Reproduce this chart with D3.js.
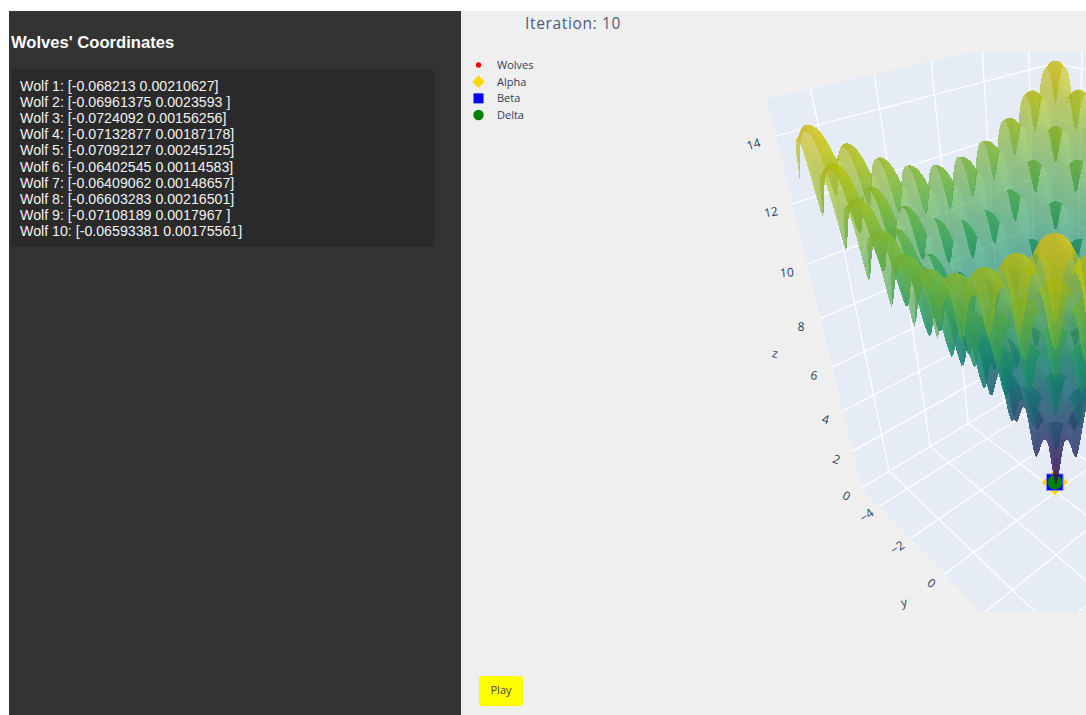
<!DOCTYPE html>
<html>
<head>
<meta charset="utf-8">
<script src="https://cdn.jsdelivr.net/npm/d3@7"></script>
<style>
  html, body { margin: 0; padding: 0; background: #fff; overflow: hidden; }
  svg { display: block; }
</style>
</head>
<body>
<div id="graphicContainer"></div>
<script>
const wolfLabels = [
  "Wolf 1: [-0.068213 0.00210627]",
  "Wolf 2: [-0.06961375 0.0023593 ]",
  "Wolf 3: [-0.0724092 0.00156256]",
  "Wolf 4: [-0.07132877 0.00187178]",
  "Wolf 5: [-0.07092127 0.00245125]",
  "Wolf 6: [-0.06402545 0.00114583]",
  "Wolf 7: [-0.06409062 0.00148657]",
  "Wolf 8: [-0.06603283 0.00216501]",
  "Wolf 9: [-0.07108189 0.0017967 ]",
  "Wolf 10: [-0.06593381 0.00175561]"
]
const wolfX = [-0.068213, -0.06961375, -0.0724092, -0.07132877, -0.07092127, -0.06402545, -0.06409062, -0.06603283, -0.07108189, -0.06593381]
const wolfY = [0.00210627, 0.0023593, 0.00156256, 0.00187178, 0.00245125, 0.00114583, 0.00148657, 0.00216501, 0.0017967, 0.00175561]
const wolfZ = 0.58

const xTicks = [-4, -2, 0, 2, 4]
const yTicks = [-4, -2, 0, 2, 4]
const zTicks = [0, 2, 4, 6, 8, 10, 12, 14]
const yTickLabels = [-4, -2, 0]

const legendNames = ["Wolves", "Alpha", "Beta", "Delta"]

// surface heights, rows y = -5..5, columns x = -5..5, half a unit apart
const zRows = [
  [12.64,13.99,11.91,13.28,11.23,12.65,10.66,12.16,10.28,11.89,10.14,11.89,10.28,12.16,10.66,12.65,11.23,13.28,11.91,13.99,12.64],
  [13.99,14.22,13.18,13.42,12.41,12.69,11.75,12.12,11.30,11.81,11.13,11.81,11.30,12.12,11.75,12.69,12.41,13.42,13.18,14.22,13.99],
  [11.91,13.18,11.01,12.29,10.14,11.45,9.37,10.79,8.84,10.41,8.64,10.41,8.84,10.79,9.37,11.45,10.14,12.29,11.01,13.18,11.91],
  [13.28,13.42,12.29,12.42,11.30,11.46,10.41,10.68,9.77,10.22,9.53,10.22,9.77,10.68,10.41,11.46,11.30,12.42,12.29,13.42,13.28],
  [11.23,12.41,10.14,11.30,9.02,10.21,7.99,9.27,7.21,8.71,6.92,8.71,7.21,9.27,7.99,10.21,9.02,11.30,10.14,12.41,11.23],
  [12.65,12.69,11.45,11.46,10.21,10.22,9.00,9.11,8.05,8.40,7.67,8.40,8.05,9.11,9.00,10.22,10.21,11.46,11.45,12.69,12.65],
  [10.66,11.75,9.37,10.41,7.99,9.00,6.59,7.67,5.42,6.78,4.93,6.78,5.42,7.67,6.59,9.00,7.99,10.41,9.37,11.75,10.66],
  [12.16,12.12,10.79,10.68,9.27,9.11,7.67,7.53,6.22,6.36,5.54,6.36,6.22,7.53,7.67,9.11,9.27,10.68,10.79,12.12,12.16],
  [10.28,11.30,8.84,9.77,7.21,8.05,5.42,6.22,3.63,4.64,2.64,4.64,3.63,6.22,5.42,8.05,7.21,9.77,8.84,11.30,10.28],
  [11.89,11.81,10.41,10.22,8.71,8.40,6.78,6.36,4.64,4.25,3.08,4.25,4.64,6.36,6.78,8.40,8.71,10.22,10.41,11.81,11.89],
  [10.14,11.13,8.64,9.53,6.92,7.67,4.93,5.54,2.64,3.08,0.45,3.08,2.64,5.54,4.93,7.67,6.92,9.53,8.64,11.13,10.14],
  [11.89,11.81,10.41,10.22,8.71,8.40,6.78,6.36,4.64,4.25,3.08,4.25,4.64,6.36,6.78,8.40,8.71,10.22,10.41,11.81,11.89],
  [10.28,11.30,8.84,9.77,7.21,8.05,5.42,6.22,3.63,4.64,2.64,4.64,3.63,6.22,5.42,8.05,7.21,9.77,8.84,11.30,10.28],
  [12.16,12.12,10.79,10.68,9.27,9.11,7.67,7.53,6.22,6.36,5.54,6.36,6.22,7.53,7.67,9.11,9.27,10.68,10.79,12.12,12.16],
  [10.66,11.75,9.37,10.41,7.99,9.00,6.59,7.67,5.42,6.78,4.93,6.78,5.42,7.67,6.59,9.00,7.99,10.41,9.37,11.75,10.66],
  [12.65,12.69,11.45,11.46,10.21,10.22,9.00,9.11,8.05,8.40,7.67,8.40,8.05,9.11,9.00,10.22,10.21,11.46,11.45,12.69,12.65],
  [11.23,12.41,10.14,11.30,9.02,10.21,7.99,9.27,7.21,8.71,6.92,8.71,7.21,9.27,7.99,10.21,9.02,11.30,10.14,12.41,11.23],
  [13.28,13.42,12.29,12.42,11.30,11.46,10.41,10.68,9.77,10.22,9.53,10.22,9.77,10.68,10.41,11.46,11.30,12.42,12.29,13.42,13.28],
  [11.91,13.18,11.01,12.29,10.14,11.45,9.37,10.79,8.84,10.41,8.64,10.41,8.84,10.79,9.37,11.45,10.14,12.29,11.01,13.18,11.91],
  [13.99,14.22,13.18,13.42,12.41,12.69,11.75,12.12,11.30,11.81,11.13,11.81,11.30,12.12,11.75,12.69,12.41,13.42,13.18,14.22,13.99],
  [12.64,13.99,11.91,13.28,11.23,12.65,10.66,12.16,10.28,11.89,10.14,11.89,10.28,12.16,10.66,12.65,11.23,13.28,11.91,13.99,12.64]
]

const axisMin = -5.25
const axisMax = 5.25
const zTop = 15
const subdiv = 8
const pitSharpness = 0.07
const surfaceOpacity = 0.64

const width = 1086
const height = 715
const font = "'Open Sans', sans-serif"
const inkColor = "#2a3f5f"

const svg = d3.select("#graphicContainer").append("svg")
  .attr("width", width)
  .attr("height", height)

svg.append("rect").attr("x", 9).attr("y", 11).attr("width", 452).attr("height", 704).attr("fill", "#333333")
svg.append("rect").attr("x", 461).attr("y", 11).attr("width", 625).attr("height", 704).attr("fill", "#efefef")

// left panel
svg.append("text")
  .attr("x", 11).attr("y", 48)
  .attr("font-family", "'Liberation Sans', Arial, sans-serif")
  .attr("font-size", 16.6).attr("font-weight", "bold").attr("fill", "#fff")
  .text("Wolves' Coordinates")

svg.append("rect")
  .attr("x", 11).attr("y", 69).attr("width", 423).attr("height", 178).attr("rx", 4)
  .attr("fill", "#2a2a2a")

svg.append("g").selectAll("text")
  .data(wolfLabels)
  .enter()
  .append("text")
  .attr("x", 20)
  .attr("y", (d, i) => 91 + i * 16.1)
  .attr("font-family", "'Liberation Sans', Arial, sans-serif")
  .attr("font-size", 14.2)
  .attr("fill", "#f2f2f2")
  .style("white-space", "pre")
  .text(d => d)

// header, legend, button
svg.append("text")
  .attr("x", 525).attr("y", 29)
  .attr("font-family", font).attr("font-size", 15.5).attr("fill", "#4a5c78")
  .style("letter-spacing", "0.65px")
  .text("Iteration: 10")

const symbolFor = {
  Wolves: d3.symbol(d3.symbolCircle, 22)(),
  Alpha: d3.symbol(d3.symbolDiamond2, 100)(),
  Beta: d3.symbol(d3.symbolSquare, 100)(),
  Delta: d3.symbol(d3.symbolCircle, 85)()
}
const colorFor = { Wolves: "#ff0000", Alpha: "#ffd700", Beta: "#0000ff", Delta: "#008000" }

const legendY = d3.scalePoint().domain(legendNames).range([65, 115])

const legend = svg.append("g").selectAll("g")
  .data(legendNames)
  .enter()
  .append("g")
  .attr("transform", d => `translate(0,${legendY(d)})`)

legend.append("path")
  .attr("transform", "translate(478.5,0)")
  .attr("d", d => symbolFor[d])
  .attr("fill", d => colorFor[d])

legend.append("text")
  .attr("x", 497).attr("y", 4)
  .attr("font-family", font).attr("font-size", 11).attr("fill", inkColor)
  .text(d => d)

svg.append("rect")
  .attr("x", 479).attr("y", 676).attr("width", 44).attr("height", 30).attr("rx", 3)
  .attr("fill", "#ffff00")

svg.append("text")
  .attr("x", 501).attr("y", 694)
  .attr("text-anchor", "middle")
  .attr("font-family", font).attr("font-size", 11).attr("fill", "#444")
  .text("Play")

const depth = (x, y, z) => 1 + 0.02057 * (x - axisMin) - 0.02444 * (y - axisMin) - 0.02168 * z

const project = (x, y, z) => {
  const X = x - axisMin
  const Y = y - axisMin
  const w = depth(x, y, z)
  return [
    (861.7 + 40.23 * X - 7.3 * Y - 22.94 * z) / w,
    (487.7 - 3.54 * X + 2.4 * Y - 28.07 * z) / w
  ]
}

const line3d = d3.line()

const defs = svg.append("defs")

defs.append("clipPath").attr("id", "sceneClip")
  .append("rect").attr("x", 461).attr("y", 51).attr("width", 625).attr("height", 561)

const soften = defs.append("filter").attr("id", "soften")
  .attr("x", 0).attr("y", 0).attr("width", 1).attr("height", 1)
soften.append("feGaussianBlur").attr("stdDeviation", 0.45)

const scene = svg.append("g").attr("clip-path", "url(#sceneClip)")

const walls = [
  [[axisMin, axisMin, 0], [axisMax, axisMin, 0], [axisMax, axisMax, 0], [axisMin, axisMax, 0]],
  [[axisMin, axisMin, 0], [axisMax, axisMin, 0], [axisMax, axisMin, zTop], [axisMin, axisMin, zTop]],
  [[axisMax, axisMin, 0], [axisMax, axisMax, 0], [axisMax, axisMax, zTop], [axisMax, axisMin, zTop]]
]

scene.append("g").selectAll("path")
  .data(walls)
  .enter()
  .append("path")
  .attr("d", d => line3d(d.map(p => project(...p))) + "Z")
  .attr("fill", "#e5ecf6")

const gridLines = []

xTicks.forEach(t => {
  gridLines.push([[t, axisMin, 0], [t, axisMax, 0]])
  gridLines.push([[t, axisMin, 0], [t, axisMin, zTop]])
})
yTicks.forEach(t => {
  gridLines.push([[axisMin, t, 0], [axisMax, t, 0]])
  gridLines.push([[axisMax, t, 0], [axisMax, t, zTop]])
})
zTicks.forEach(t => {
  gridLines.push([[axisMin, axisMin, t], [axisMax, axisMin, t]])
  gridLines.push([[axisMax, axisMin, t], [axisMax, axisMax, t]])
})

scene.append("g").selectAll("path")
  .data(gridLines)
  .enter()
  .append("path")
  .attr("d", d => line3d(d.map(p => project(...p))))
  .attr("fill", "none")
  .attr("stroke", "#fff")
  .attr("stroke-width", 1.2)

// wolves sit under the tip of the central pit
const marks = scene.append("g")

marks.selectAll("circle")
  .data(wolfX.map((x, i) => project(x, wolfY[i], wolfZ)))
  .enter()
  .append("circle")
  .attr("cx", d => d[0]).attr("cy", d => d[1]).attr("r", 2.5)
  .attr("fill", "#ff0000")

const bestPoint = project(wolfX[5], wolfY[5], wolfZ)

marks.selectAll("path")
  .data([
    { d: d3.symbol(d3.symbolDiamond2, 430)(), fill: "#ffd700", stroke: "none" },
    { d: d3.symbol(d3.symbolSquare, 270)(), fill: "#0000ff", stroke: "#8888ff" },
    { d: d3.symbol(d3.symbolCircle, 170)(), fill: "#008000", stroke: "none" }
  ])
  .enter()
  .append("path")
  .attr("transform", `translate(${bestPoint[0]},${bestPoint[1]})`)
  .attr("d", d => d.d)
  .attr("fill", d => d.fill)
  .attr("stroke", d => d.stroke)

// surface
const gridX = d3.scaleLinear().domain([0, 20]).range([-5, 5])
const gridY = d3.scaleLinear().domain([0, 20]).range([-5, 5])
const colorScale = d3.scaleSequential(d3.interpolateViridis).domain([0, 14.22])

const spline = (a, b, c, d, t) =>
  0.5 * (2 * b + (c - a) * t + (2 * a - 5 * b + 4 * c - d) * t * t + (3 * b - a - 3 * c + d) * t * t * t)

const heightAt = (u, v) => {
  const i = Math.min(Math.floor(u), 19)
  const j = Math.min(Math.floor(v), 19)
  const row = r => zRows[Math.max(0, Math.min(20, r))]
  const col = (r, c) => row(r)[Math.max(0, Math.min(20, c))]
  const across = r => spline(col(r, i - 1), col(r, i), col(r, i + 1), col(r, i + 2), u - i)
  return spline(across(j - 1), across(j), across(j + 1), across(j + 2), v - j)
}

// pits in the picture are narrower than a plain spline through the samples
const sharpen = u => u + 2 * pitSharpness * Math.sin(Math.PI * u)

const steps = d3.range(0, 20 * subdiv + 1).map(s => s / subdiv)

const vertices = steps.map(v => steps.map(u => {
  const x = gridX(u)
  const y = gridY(v)
  const z = heightAt(sharpen(u), sharpen(v))
  return { x, y, z, p: project(x, y, z) }
}))

const light = [0.7071, 0.7071, 0]

const quads = []

for (let j = 0; j < steps.length - 1; j++) {
  for (let i = 0; i < steps.length - 1; i++) {
    const a = vertices[j][i], b = vertices[j][i + 1], c = vertices[j + 1][i + 1], e = vertices[j + 1][i]
    if (Math.min(a.p[0], b.p[0], c.p[0], e.p[0]) > 1090) continue
    const gx = ((b.z - a.z) + (c.z - e.z)) / (2 * (b.x - a.x))
    const gy = ((e.z - a.z) + (c.z - b.z)) / (2 * (e.y - a.y))
    const len = Math.hypot(gx, gy, 1)
    const dot = (-gx * light[0] - gy * light[1]) / len
    const z = (a.z + b.z + c.z + e.z) / 4
    const base = d3.rgb(colorScale(z))
    const k = 0.8 + 0.08 * Math.max(0, dot)
    quads.push({
      d: line3d([a.p, b.p, c.p, e.p]) + "Z",
      far: depth((a.x + c.x) / 2, (a.y + c.y) / 2, z),
      fill: `rgb(${base.r * k},${base.g * k},${base.b * k})`
    })
  }
}

quads.sort((p, q) => q.far - p.far)

scene.append("g")
  .attr("filter", "url(#soften)")
  .selectAll("path")
  .data(quads)
  .enter()
  .append("path")
  .attr("d", d => d.d)
  .attr("fill", d => d.fill)
  .attr("fill-opacity", surfaceOpacity)
  .attr("shape-rendering", "crispEdges")

// axis text
const tickText = svg.append("g")
  .attr("font-family", font).attr("font-size", 12).attr("fill", inkColor)
  .attr("text-anchor", "middle").attr("dominant-baseline", "central")

tickText.selectAll(".ztick")
  .data(zTicks)
  .enter()
  .append("text")
  .attr("class", "ztick")
  .attr("transform", d => {
    const p = project(axisMin, axisMin, d)
    return `translate(${p[0] - 15 - d * 0.55},${p[1] + 8}) rotate(${28 - d * 3.2})`
  })
  .text(d => d)

tickText.selectAll(".ytick")
  .data(yTickLabels)
  .enter()
  .append("text")
  .attr("class", "ytick")
  .attr("transform", d => {
    const p = project(axisMin, d, 0)
    return `translate(${p[0] - 13},${p[1] + 9}) rotate(${d < 0 ? -35 : 35})`
  })
  .text(d => d3.format("")(d))

tickText.append("text")
  .attr("transform", "translate(775,353) rotate(10)")
  .text("z")

tickText.append("text")
  .attr("transform", "translate(904,602) rotate(-10)")
  .text("y")
</script>
</body>
</html>
